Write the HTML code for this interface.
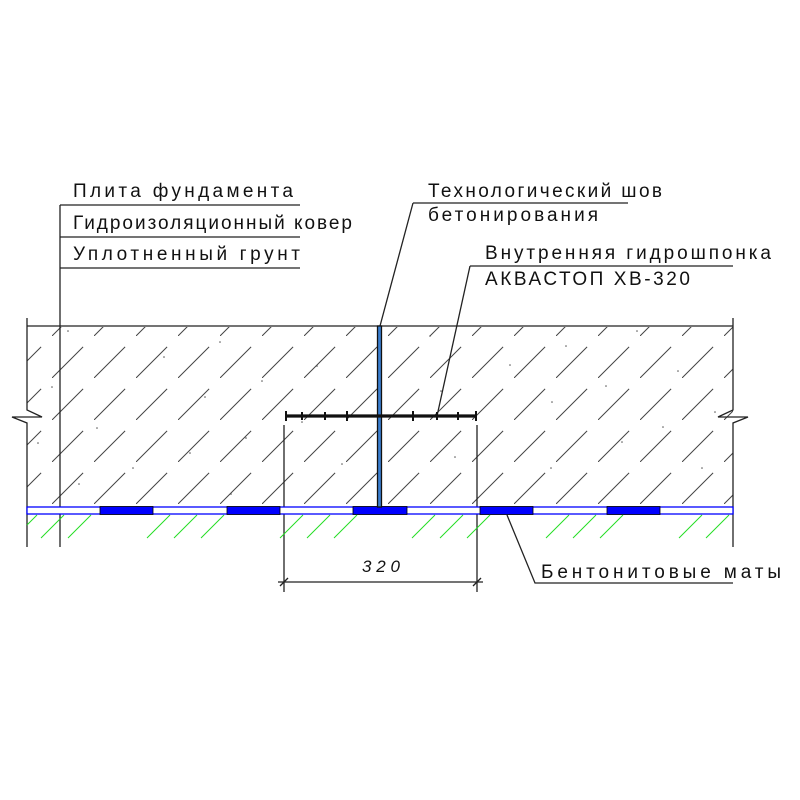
<!DOCTYPE html>
<html><head><meta charset="utf-8"><style>
html,body{margin:0;padding:0;background:#fff;width:800px;height:800px;overflow:hidden}
svg{display:block}
text{font-family:"Liberation Sans","DejaVu Sans",sans-serif;font-size:19px;fill:#111}
</style></head><body>
<svg width="800" height="800" viewBox="0 0 800 800" xmlns="http://www.w3.org/2000/svg">
<defs>
<pattern id="h" patternUnits="userSpaceOnUse" width="42" height="42" x="10" y="0">
<line x1="0" y1="42" x2="42" y2="0" stroke="#444" stroke-width="1" stroke-dasharray="44 18"/>
</pattern>
</defs>
<rect x="27" y="327" width="706" height="180" fill="url(#h)"/>
<g fill="#555">
<circle cx="68" cy="331" r="0.8"/><circle cx="52" cy="387" r="0.8"/><circle cx="38" cy="443" r="0.8"/><circle cx="97" cy="428" r="0.8"/><circle cx="79" cy="484" r="0.8"/><circle cx="133" cy="468" r="0.8"/><circle cx="164" cy="357" r="0.8"/><circle cx="220" cy="342" r="0.8"/><circle cx="205" cy="397" r="0.8"/><circle cx="190" cy="453" r="0.8"/><circle cx="246" cy="438" r="0.8"/><circle cx="231" cy="494" r="0.8"/><circle cx="262" cy="381" r="0.8"/><circle cx="317" cy="366" r="0.8"/><circle cx="302" cy="422" r="0.8"/><circle cx="342" cy="464" r="0.8"/><circle cx="430" cy="336" r="0.8"/><circle cx="441" cy="391" r="0.8"/><circle cx="455" cy="457" r="0.8"/><circle cx="510" cy="365" r="0.8"/><circle cx="566" cy="346" r="0.8"/><circle cx="552" cy="402" r="0.8"/><circle cx="551" cy="468" r="0.8"/><circle cx="606" cy="386" r="0.8"/><circle cx="622" cy="442" r="0.8"/><circle cx="637" cy="331" r="0.8"/><circle cx="678" cy="371" r="0.8"/><circle cx="663" cy="427" r="0.8"/><circle cx="702" cy="468" r="0.8"/><circle cx="715" cy="412" r="0.8"/></g>
<g stroke="#222" stroke-width="1.3" fill="none">
<line x1="27" y1="326" x2="733" y2="326"/>
<polyline points="27,318 27,410 42,417 12,417 27,423 27,547"/>
<polyline points="733,318 733,410 718,417 748,417 733,423 733,547"/>
<line x1="60" y1="205" x2="60" y2="547"/>
<line x1="60" y1="205" x2="300" y2="205"/>
<line x1="60" y1="237" x2="300" y2="237"/>
<line x1="60" y1="268" x2="300" y2="268"/>
<line x1="413" y1="203" x2="628" y2="203"/>
<line x1="413" y1="203" x2="380" y2="326"/>
<line x1="470" y1="266" x2="733" y2="266"/>
<line x1="470" y1="266" x2="437" y2="416"/>
<line x1="284" y1="425" x2="284" y2="592"/>
<line x1="477" y1="425" x2="477" y2="592"/>
<line x1="278" y1="582" x2="483" y2="582"/>
<line x1="280" y1="586" x2="288" y2="578"/>
<line x1="473" y1="586" x2="481" y2="578"/>
<polyline points="507,515 535,583 733,583"/>
</g>
<rect x="27" y="507" width="706" height="7" fill="#fff" stroke="#0000ff" stroke-width="1.3"/>
<g fill="#0000ff" stroke="#000" stroke-width="0.8">
<rect x="100" y="506.5" width="53" height="8"/><rect x="227" y="506.5" width="53" height="8"/><rect x="353" y="506.5" width="54" height="8"/><rect x="480" y="506.5" width="53" height="8"/><rect x="607" y="506.5" width="53" height="8"/>
</g>
<g stroke="#22dd22" stroke-width="1">
<line x1="27" y1="525" x2="37" y2="515"/><line x1="41" y1="538" x2="64" y2="515"/><line x1="68" y1="538" x2="91" y2="515"/>
<line x1="147" y1="538" x2="170" y2="515"/><line x1="174" y1="538" x2="197" y2="515"/><line x1="201" y1="538" x2="224" y2="515"/>
<line x1="280" y1="538" x2="303" y2="515"/><line x1="307" y1="538" x2="330" y2="515"/><line x1="334" y1="538" x2="357" y2="515"/>
<line x1="412" y1="538" x2="435" y2="515"/><line x1="440" y1="538" x2="463" y2="515"/><line x1="467" y1="538" x2="490" y2="515"/>
<line x1="546" y1="538" x2="569" y2="515"/><line x1="573" y1="538" x2="596" y2="515"/><line x1="600" y1="538" x2="623" y2="515"/>
<line x1="679" y1="538" x2="702" y2="515"/><line x1="706" y1="538" x2="729" y2="515"/>
</g>
<rect x="377.5" y="326" width="4" height="181" fill="#3a7fd0" stroke="#111" stroke-width="1.3"/>
<line x1="285" y1="416" x2="477" y2="416" stroke="#111" stroke-width="3.2"/>
<g stroke="#111" stroke-width="2">
<line x1="286" y1="411" x2="286" y2="421"/><line x1="302" y1="412" x2="302" y2="420"/><line x1="325" y1="412" x2="325" y2="420"/><line x1="347" y1="411" x2="347" y2="421"/>
<line x1="413" y1="411" x2="413" y2="421"/><line x1="437" y1="412" x2="437" y2="420"/><line x1="458" y1="412" x2="458" y2="420"/><line x1="476" y1="411" x2="476" y2="421"/>
</g>
<text x="73" y="197" textLength="220" lengthAdjust="spacing">Плита фундамента</text>
<text x="73" y="229" textLength="279" lengthAdjust="spacing">Гидроизоляционный ковер</text>
<text x="73" y="260" textLength="227" lengthAdjust="spacing">Уплотненный грунт</text>
<text x="428" y="197" textLength="234" lengthAdjust="spacing">Технологический шов</text>
<text x="428" y="221" textLength="170" lengthAdjust="spacing">бетонирования</text>
<text x="485" y="259" textLength="286" lengthAdjust="spacing">Внутренняя гидрошпонка</text>
<text x="485" y="285" textLength="205" lengthAdjust="spacing">АКВАСТОП ХВ-320</text>
<text x="541" y="578" textLength="240" lengthAdjust="spacing">Бентонитовые маты</text>
<text x="362" y="572" font-style="italic" style="font-size:17px" textLength="38" lengthAdjust="spacing">320</text>
</svg>
</body></html>
